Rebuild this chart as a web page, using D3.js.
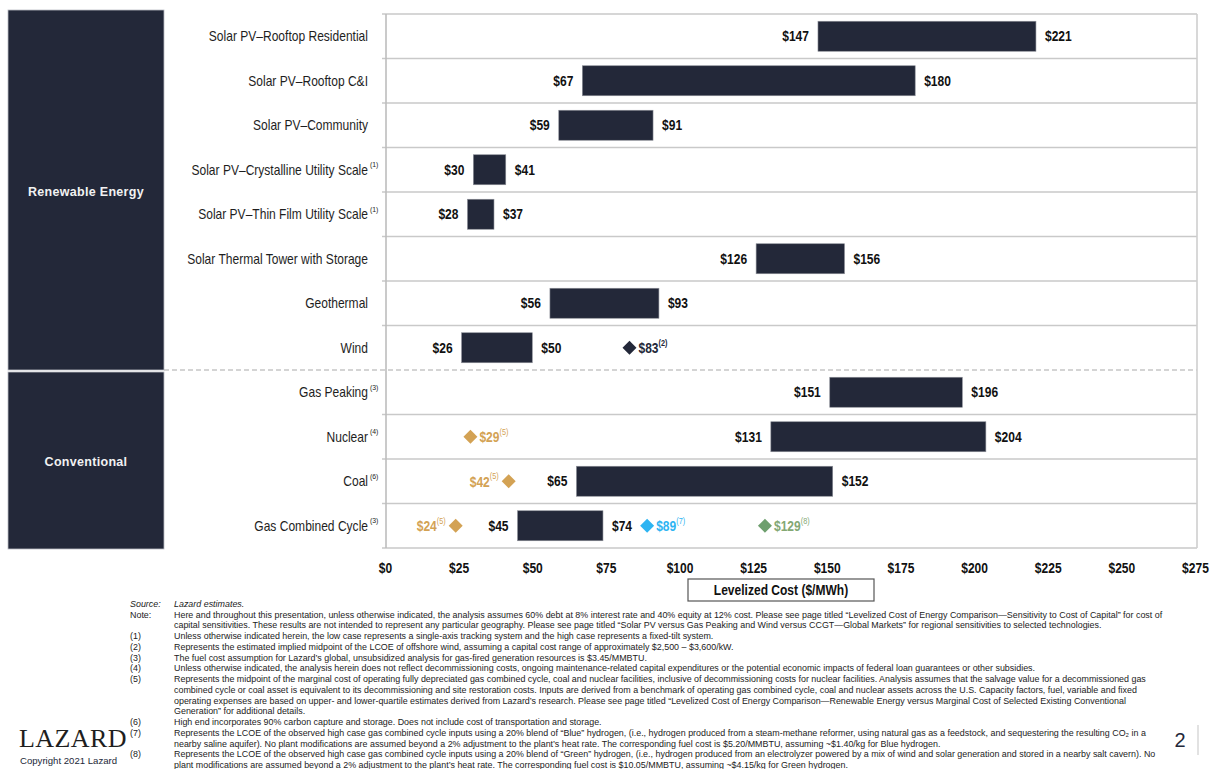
<!DOCTYPE html>
<html><head><meta charset="utf-8">
<script src="https://cdn.jsdelivr.net/npm/d3@7"></script>
<style>
html,body{margin:0;padding:0;background:#fff;}
svg{display:block;}
</style></head>
<body>
<svg id="chart" width="1210" height="769"></svg>
<script>
// ---------- data ----------
const categories = ["Solar PV\u2013Rooftop Residential","Solar PV\u2013Rooftop C&I","Solar PV\u2013Community","Solar PV\u2013Crystalline Utility Scale","Solar PV\u2013Thin Film Utility Scale","Solar Thermal Tower with Storage","Geothermal","Wind","Gas Peaking","Nuclear","Coal","Gas Combined Cycle"];
const categoryNotes = ["","","","(1)","(1)","","","","(3)","(4)","(6)","(3)"];
const lowValues  = [147,67,59,30,28,126,56,26,151,131,65,45];
const highValues = [221,180,91,41,37,156,93,50,196,204,152,74];
const groupNames = ["Renewable Energy","Conventional"];
const groupSizes = [8,4];
const markerRows   = ["Wind","Nuclear","Coal","Gas Combined Cycle","Gas Combined Cycle","Gas Combined Cycle"];
const markerValues = [83,29,42,24,89,129];
const markerNotes  = ["(2)","(5)","(5)","(5)","(7)","(8)"];
const markerKinds  = ["offshore","marginal","marginal","marginal","blue","green"];
const markerSides  = ["right","right","left","left","right","right"];
const tickValues = [0,25,50,75,100,125,150,175,200,225,250,275];
const axisTitle = "Levelized Cost ($/MWh)";
const footLabels = ["Source:","Note:","","(1)","(2)","(3)","(4)","(5)","","","","(6)","(7)","","(8)",""];
const footLines = [
"Lazard estimates.",
"Here and throughout this presentation, unless otherwise indicated, the analysis assumes 60% debt at 8% interest rate and 40% equity at 12% cost. Please see page titled \u201cLevelized Cost of Energy Comparison\u2014Sensitivity to Cost of Capital\u201d for cost of",
"capital sensitivities. These results are not intended to represent any particular geography. Please see page titled \u201cSolar PV versus Gas Peaking and Wind versus CCGT\u2014Global Markets\u201d for regional sensitivities to selected technologies.",
"Unless otherwise indicated herein, the low case represents a single-axis tracking system and the high case represents a fixed-tilt system.",
"Represents the estimated implied midpoint of the LCOE of offshore wind, assuming a capital cost range of approximately $2,500 \u2013 $3,600/kW.",
"The fuel cost assumption for Lazard\u2019s global, unsubsidized analysis for gas-fired generation resources is $3.45/MMBTU.",
"Unless otherwise indicated, the analysis herein does not reflect decommissioning costs, ongoing maintenance-related capital expenditures or the potential economic impacts of federal loan guarantees or other subsidies.",
"Represents the midpoint of the marginal cost of operating fully depreciated gas combined cycle, coal and nuclear facilities, inclusive of decommissioning costs for nuclear facilities. Analysis assumes that the salvage value for a decommissioned gas",
"combined cycle or coal asset is equivalent to its decommissioning and site restoration costs. Inputs are derived from a benchmark of operating gas combined cycle, coal and nuclear assets across the U.S. Capacity factors, fuel, variable and fixed",
"operating expenses are based on upper- and lower-quartile estimates derived from Lazard\u2019s research. Please see page titled \u201cLevelized Cost of Energy Comparison\u2014Renewable Energy versus Marginal Cost of Selected Existing Conventional",
"Generation\u201d for additional details.",
"High end incorporates 90% carbon capture and storage. Does not include cost of transportation and storage.",
"Represents the LCOE of the observed high case gas combined cycle inputs using a 20% blend of \u201cBlue\u201d hydrogen, (i.e., hydrogen produced from a steam-methane reformer, using natural gas as a feedstock, and sequestering the resulting CO\u2082 in a",
"nearby saline aquifer). No plant modifications are assumed beyond a 2% adjustment to the plant\u2019s heat rate. The corresponding fuel cost is $5.20/MMBTU, assuming ~$1.40/kg for Blue hydrogen.",
"Represents the LCOE of the observed high case gas combined cycle inputs using a 20% blend of \u201cGreen\u201d hydrogen, (i.e., hydrogen produced from an electrolyzer powered by a mix of wind and solar generation and stored in a nearby salt cavern). No",
"plant modifications are assumed beyond a 2% adjustment to the plant\u2019s heat rate. The corresponding fuel cost is $10.05/MMBTU, assuming ~$4.15/kg for Green hydrogen."
];

// ---------- styles ----------
const NAVY = "#232839";
const kindColor = {offshore:NAVY, marginal:"#D3A254", blue:"#2DB4F2", green:"#6E9F6E"};
const kindText  = {offshore:NAVY, marginal:"#D3A254", blue:"#2DB4F2", green:"#84A874"};
const FONT = "'Liberation Sans', Arial, sans-serif";
const SX = 0.86; // narrow face emulation

const svg = d3.select("#chart");

const x = d3.scaleLinear().domain([0,275]).range([385,1195]);
const y = d3.scaleBand().domain(categories).range([14,548]);
const bw = y.bandwidth();
const barH = 30;
const plotL = 386, plotR = 1197, plotT = 14, plotB = 548;

function ntext(parent, px, py, anchor, size, weight, color, sx){
  const g = parent.append("g").attr("transform", `translate(${px},${py}) scale(${sx===undefined?SX:sx},1)`);
  return g.append("text").attr("x",0).attr("y",0)
    .attr("text-anchor",anchor).attr("dominant-baseline","central")
    .attr("font-family",FONT).attr("font-size",size).attr("font-weight",weight)
    .attr("fill",color);
}

// ---------- group boxes ----------
let start = 0;
groupNames.forEach((gname,i)=>{
  const first = categories[start], last = categories[start+groupSizes[i]-1];
  const top = i===0 ? y(first)-4 : y(first)+2;
  const bot = i===0 ? y(last)+bw : y(last)+bw+1;
  svg.append("rect").attr("x",8).attr("y",top).attr("width",156).attr("height",bot-top)
    .attr("fill",NAVY).attr("stroke","#b9bcc4").attr("stroke-width",0.8);
  svg.append("text").attr("x",86).attr("y",(top+bot)/2+1.5).attr("text-anchor","middle")
    .attr("dominant-baseline","central").attr("font-family",FONT).attr("font-size",12.5)
    .attr("font-weight","bold").attr("fill","#f2f2f2").attr("letter-spacing",0.3).text(gname);
  start += groupSizes[i];
});

// ---------- grid / frame ----------
const grid = svg.append("g");
const bounds = d3.range(categories.length+1).map(i=> i<categories.length ? y(categories[i]) : y(categories[i-1])+bw);
bounds.forEach((b,i)=>{
  const isSep = i===groupSizes[0];
  grid.append("line").attr("x1", isSep?164:382).attr("x2",plotR).attr("y1",b).attr("y2",b)
    .attr("stroke", isSep?"#a9a9a9":"#c9c9c9").attr("stroke-width",isSep?1.2:1.6)
    .attr("stroke-dasharray", isSep?"5,3":null);
});
grid.append("line").attr("x1",plotL).attr("x2",plotL).attr("y1",plotT).attr("y2",plotB).attr("stroke","#bdbdbd").attr("stroke-width",1.6);
grid.append("line").attr("x1",plotR).attr("x2",plotR).attr("y1",plotT).attr("y2",plotB).attr("stroke","#cfcfcf").attr("stroke-width",1.6);

// ---------- category labels ----------
categories.forEach((c,i)=>{
  ntext(svg, 368, y(c)+bw/2, "end", 14, "normal", "#1e1e1e").text(c);
  if(categoryNotes[i]) ntext(svg, 370, y(c)+bw/2-5, "start", 8, "normal", "#1e1e1e").text(categoryNotes[i]);
});

// ---------- bars ----------
svg.append("g").selectAll("rect").data(categories).join("rect")
  .attr("x",(c,i)=>x(lowValues[i])).attr("width",(c,i)=>x(highValues[i])-x(lowValues[i]))
  .attr("y",c=>y(c)+(bw-barH)/2).attr("height",barH)
  .attr("fill",NAVY).attr("stroke","#8a8d96").attr("stroke-width",0.6);

categories.forEach((c,i)=>{
  const cy = y(c)+bw/2;
  ntext(svg, x(lowValues[i])-9, cy, "end", 14, "bold", "#111").text("$"+lowValues[i]);
  ntext(svg, x(highValues[i])+9, cy, "start", 14, "bold", "#111").text("$"+highValues[i]);
});

// ---------- markers ----------
markerRows.forEach((r,i)=>{
  const cx = x(markerValues[i]), cy = y(r)+bw/2;
  svg.append("path").attr("d", d3.symbol(d3.symbolSquare, 98)())
    .attr("transform",`translate(${cx},${cy}) rotate(45)`).attr("fill",kindColor[markerKinds[i]]);
  const right = markerSides[i]==="right";
  const t = ntext(svg, right? cx+9 : cx-10, cy, right?"start":"end", 14, "bold", kindText[markerKinds[i]]);
  t.append("tspan").text("$"+markerValues[i]);
  t.append("tspan").attr("font-size",8.5).attr("dy",-5).attr("font-weight", markerKinds[i]==="offshore"?"bold":"normal").text(markerNotes[i]);
});

// ---------- axis ----------
const axis = d3.axisBottom(x).tickValues(tickValues).tickFormat(d=>"$"+d).tickSize(0).tickPadding(0);
const ag = svg.append("g").attr("transform","translate(0,560)").call(axis);
ag.select(".domain").remove();
ag.selectAll(".tick text").each(function(){
  d3.select(this).attr("font-family",FONT).attr("font-size",14).attr("font-weight","bold").attr("fill","#111")
    .attr("dy",0).attr("y",8).attr("dominant-baseline","central").attr("transform",`scale(${SX},1)`);
});
svg.append("rect").attr("x",688).attr("y",579).attr("width",186).attr("height",22)
  .attr("fill","#fff").attr("stroke","#555").attr("stroke-width",1.2);
ntext(svg, 781, 590.5, "middle", 14, "bold", "#111").text(axisTitle);

// ---------- footnotes ----------
const fg = svg.append("g");
const FS = 8.6, LH = 10.75, F0 = 604;
const measure = fg.append("text").attr("font-family",FONT).attr("font-size",FS).text(footLines[1]);
const wNote = measure.node().getComputedTextLength();
measure.remove();
const fsx = 988 / wNote;
footLines.forEach((ln,i)=>{
  const yy = F0 + i*LH;
  if(footLabels[i]) ntext(fg, 130, yy, "start", FS, "normal", "#222", fsx).attr("font-style", i===0?"italic":"normal").text(footLabels[i]);
  ntext(fg, 174, yy, "start", FS, "normal", "#222", fsx).attr("font-style", i===0?"italic":"normal").text(ln);
});

// ---------- logo / page ----------
svg.append("text").attr("x",19).attr("y",747).attr("font-family","'Liberation Serif', 'Times New Roman', serif")
  .attr("font-size",26).attr("fill","#1e1e1e").attr("letter-spacing",0.4).text("LAZARD");
svg.append("text").attr("x",20).attr("y",764).attr("font-family",FONT).attr("font-size",9.6)
  .attr("fill",NAVY).text("Copyright 2021 Lazard");
svg.append("text").attr("x",1180).attr("y",740).attr("text-anchor","middle").attr("dominant-baseline","central")
  .attr("font-family",FONT).attr("font-size",20).attr("fill",NAVY).text("2");
svg.append("line").attr("x1",1198).attr("x2",1198).attr("y1",725).attr("y2",755).attr("stroke","#d8d8d8").attr("stroke-width",1.5);
</script>
</body></html>
